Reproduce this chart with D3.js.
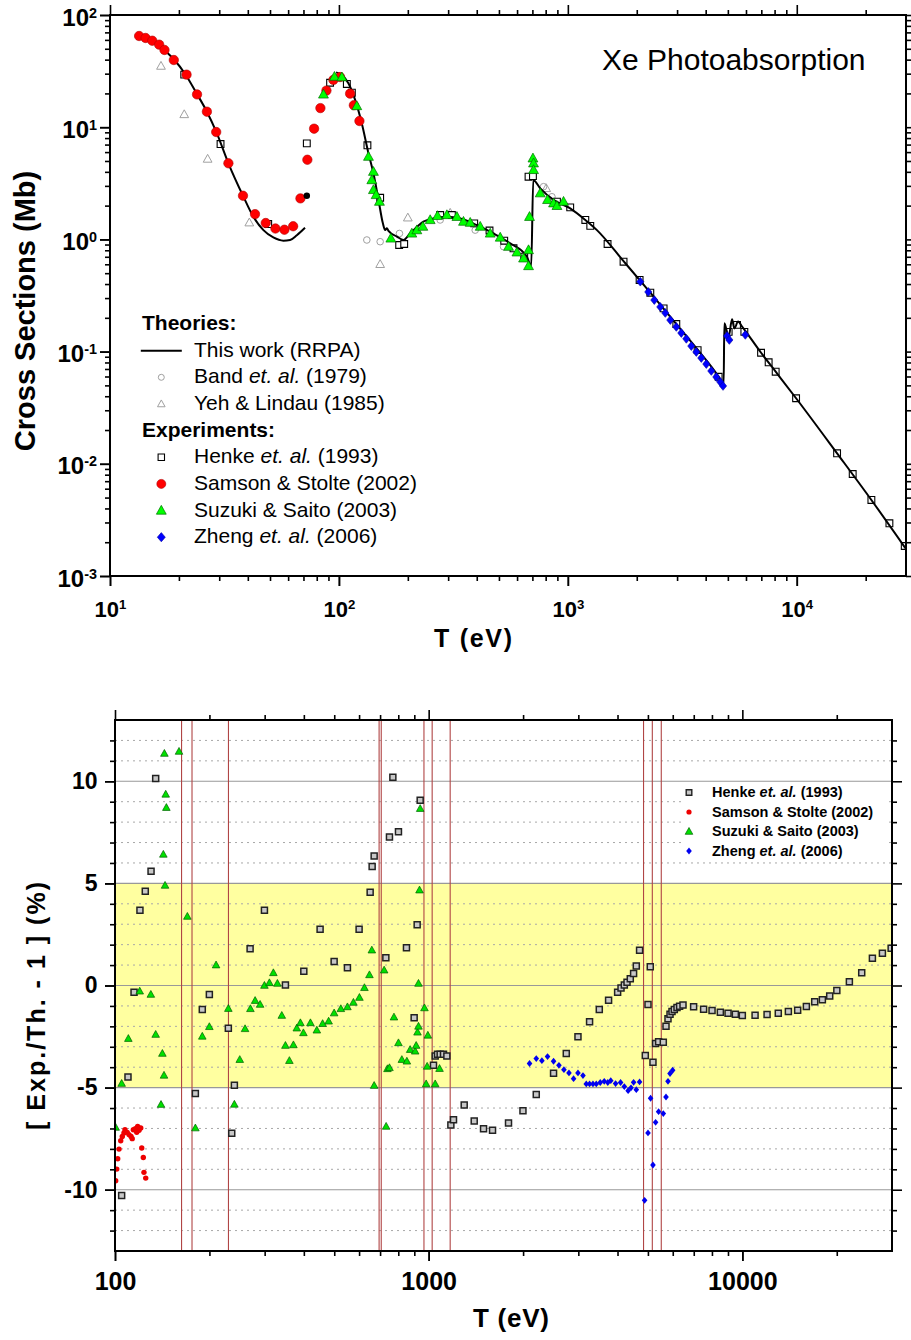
<!DOCTYPE html>
<html>
<head>
<meta charset="utf-8">
<script src="https://cdn.jsdelivr.net/npm/d3@7"></script>
<style>
  body { margin: 0; background: #fff; }
  svg { font-family: "Liberation Sans", Arial, sans-serif; }
</style>
</head>
<body>
<div id="chart"></div>
<script>
// ---------- top panel data : [T (eV), cross section (Mb)] ----------
var rrpaLow = [[13.4,65.0],[14.3,62.4],[15.3,59.0],[16.4,54.4],[17.3,48.8],[19.0,40.3],[21.3,29.8],[23.9,20.0],
  [26.5,13.75],[29.1,9.12],[32.9,4.77],[38.1,2.45],[42.3,1.59],[46.8,1.21],[51.7,1.04],[57.2,0.974],
  [61.2,0.988],[65.5,1.09],[71.1,1.27]];
var rrpaHigh = [[97.2,30.8],[103,29.2],[110,24.6],[117.7,17.5],[125.9,10.8],[134.6,5.85],[141.5,3.88],[148.9,2.25],
  [155.6,1.39],[159.2,1.21],[162.0,1.26],[164.6,1.19],[179.1,1.06],[191.4,0.988],[204.7,1.13],[234.0,1.44],
  [258.8,1.54],[296.2,1.59],[338.6,1.54],[400.6,1.34],[473.4,1.13],[560.1,0.923],[662.6,0.701],[691.8,0.579],
  [706.0,3.38],[757.5,2.85],[865.9,2.25],[1024,1.89],[1192,1.49],[1340,1.21],[1751,0.64],[2292,0.335],
  [2977,0.176],[3689,0.104],[4557,0.0595],[4792,0.0504],[4826,0.179],[5040,0.136],[5215,0.194],[5338,0.161],
  [5540,0.185],[5768,0.167],[6982,0.0977],[8088,0.0662],[9931,0.0384],[15000,0.0124],[21180,0.00476],[29830,0.00177]];
var bandPts = [[132.4,0.988],[151.4,0.954],[183.8,1.13],[276.9,1.49],[393.8,1.21],[523.6,0.861],[783.1,2.95],[852.1,2.40]];
var yehPts = [[16.7,35.1],[21.1,13.0],[26.7,5.21],[40.6,1.41],[151.4,0.600],[200.0,1.56],[306.2,1.72],[804.5,2.85]];
var henkePts = [[21.1,29.4],[30.4,7.08],[49.1,1.37],[72.4,7.18],[91.5,24.9],[108.3,24.3],[113.9,20.3],[133.2,6.90],
  [151.4,2.35],[183.3,0.891],[192.8,0.910],[276.9,1.65],[311.5,1.65],[389.9,1.39],[454.8,1.20],[527.2,0.974],
  [578.9,0.833],[644.8,0.701],[673.4,3.62],[703.9,3.67],[896.1,2.17],[1024,1.93],[1192,1.49],[1253,1.32],
  [1491,0.910],[1751,0.633],[2058,0.435],[2292,0.335],[2620,0.243],[2977,0.176],[3689,0.103],[4557,0.0597],
  [5040,0.150],[5483,0.173],[5902,0.150],[6982,0.0977],[7536,0.0803],[8088,0.0662],[9931,0.0384],[15000,0.0124],
  [17550,0.00811],[21180,0.00476],[25390,0.00295],[29620,0.00185]];
var samsonPts = [[13.4,65.0],[14.3,62.4],[15.3,59.0],[16.4,54.4],[17.3,48.8],[19.0,39.7],[21.6,29.4],[24.0,19.6],
  [26.5,13.75],[29.1,9.06],[32.9,4.77],[38.1,2.45],[43.0,1.68],[47.9,1.40],[52.8,1.25],[57.8,1.22],[63.1,1.31],
  [67.9,2.32],[72.8,5.13],[77.9,9.70],[83.0,14.8],[88.2,21.2],[94.6,26.4],[101.2,28.0],[111.9,19.9],[116.2,15.7],[122.9,11.35]];
var blackPts = [[72.4,2.45]];
var suzukiPts = [[85.6,19.6],[95.6,28.2],[103.0,27.9],[119.7,15.45],[134.6,5.46],[141.5,4.01],[139.2,3.38],[141.5,2.76],
  [145.4,2.49],[150.3,2.17],[168.6,1.02],[208.2,1.13],[219.0,1.21],[232.6,1.30],[250.4,1.49],[269.5,1.62],[296.2,1.65],
  [327.6,1.59],[350.0,1.44],[374.5,1.41],[414.2,1.30],[458.0,1.13],[506.5,1.04],[550.7,0.861],[599.2,0.767],[640.5,0.678],
  [673.4,0.579],[673.4,0.804],[680.1,1.59],[703.9,5.28],[708.1,4.77],[708.1,4.16],[757.5,2.58],[815.2,2.25],[865.9,2.10],
  [896.1,1.99],[957.6,2.17]];
var zhengPts = [[2072,0.420],[2246,0.340],[2386,0.288],[2534,0.250],[2665,0.221],[2803,0.191],[2977,0.166],[3131,0.1465],
  [3293,0.130],[3462,0.112],[3641,0.0992],[3828,0.0877],[4026,0.0775],[4233,0.0672],[4452,0.0594],[4636,0.0536],
  [4763,0.0494],[4960,0.138],[5075,0.127],[5961,0.141]];

// ---------- bottom panel data : [T (eV), Exp./Th. - 1 (%)] ----------
var henkeDev = [[105.0,-10.28],[110.0,-4.48],[115.0,-0.33],[120.1,3.69],[124.9,4.61],[130.3,5.60],[134.8,10.13],
  [180.4,-5.29],[189.8,-1.18],[199.9,-0.44],[229.8,-2.09],[235.6,-7.24],[240.2,-4.89],[269.6,1.80],[299.5,3.68],
  [349.4,0.03],[399.9,0.70],[450.7,2.75],[499.6,1.18],[550.8,0.87],[600.1,2.75],[650.8,4.57],[660.4,5.83],[670.2,6.34],
  [730.3,1.36],[749.9,7.27],[768.8,10.20],[801.1,7.53],[849.6,1.85],[898.9,-1.58],[919.0,2.98],[939.6,9.07],
  [1036,-3.91],[1049,-3.45],[1067,-3.37],[1088,-3.37],[1115,-3.37],[1143,-3.45],[1177,-6.83],[1200,-6.57],
  [1298,-5.85],[1397,-6.63],[1496,-7.02],[1598,-7.09],[1797,-6.73],[1998,-6.13],[2203,-5.34],[2501,-4.30],
  [2746,-3.33],[2992,-2.51],[3258,-1.78],[3499,-1.18],[3746,-0.72],[4003,-0.33],[4104,-0.12],[4205,0.03],
  [4289,0.16],[4393,0.33],[4501,0.59],[4591,0.95],[4703,1.73],[4905,-3.43],[5003,-0.93],[5087,0.92],[5189,-3.76],
  [5290,-2.84],[5408,-2.75],[5598,-2.78],[5710,-2.0],[5794,-1.63],[5881,-1.41],[5967,-1.27],[6069,-1.18],
  [6190,-1.08],[6310,-1.01],[6469,-0.96],[6993,-1.04],[7525,-1.16],[8006,-1.23],[8509,-1.31],[9004,-1.36],
  [9500,-1.41],[10000,-1.47],[10980,-1.46],[11990,-1.42],[13020,-1.36],[14020,-1.27],[15010,-1.21],[16000,-1.03],
  [17010,-0.80],[17995,-0.70],[18990,-0.52],[20010,-0.24],[21940,0.18],[24020,0.62],[25980,1.34],[27960,1.58],[29810,1.83]];
var samsonDev = [[100.5,-9.56],[101.3,-8.99],[102.0,-8.48],[103.0,-8.01],[104.3,-7.60],[105.5,-7.39],[106.8,-7.22],
  [107.6,-7.06],[109.4,-7.19],[110.8,-7.30],[112.5,-7.39],[113.5,-7.50],[114.4,-7.06],[116.1,-7.01],[117.3,-7.19],
  [118.1,-6.90],[119.3,-7.09],[120.8,-6.98],[121.7,-7.96],[123.1,-8.42],[123.7,-9.15],[125.3,-9.43]];
var suzukiDev = [[100.5,-6.95],[105.0,-4.80],[110.3,-2.60],[119.9,-0.28],[130.1,-0.44],[134.8,-2.40],[140.2,-5.83],
  [141.6,-3.33],[142.6,6.42],[143.3,-4.40],[143.7,11.36],[144.4,4.90],[145.1,9.36],[145.8,8.71],[160.0,11.46],
  [170.1,3.38],[180.4,-6.98],[189.8,-2.49],[199.9,-2.02],[210.0,1.00],[229.8,-1.13],[240.2,-5.82],[249.9,-3.63],
  [259.8,-2.12],[270.2,-1.14],[279.7,-0.74],[290.1,-0.93],[299.5,0.0],[310.6,0.13],[319.8,0.62],[329.4,0.10],
  [340.2,-1.47],[349.4,-2.94],[359.7,-3.68],[370.5,-2.91],[379.8,-2.09],[390.0,-1.83],[398.7,-2.32],[419.8,-1.83],
  [440.0,-2.19],[459.1,-1.87],[479.8,-1.75],[499.6,-1.35],[524.8,-1.14],[550.8,-1.05],[575.6,-0.83],[601.5,-0.59],
  [624.0,-0.11],[647.4,0.52],[658.9,1.73],[670.2,-4.90],[721.2,0.75],[731.8,-6.90],[738.9,-4.08],[749.9,-4.03],
  [775.1,-1.55],[801.1,-2.81],[821.3,-3.63],[852.1,-3.71],[873.0,-3.14],[905.6,-3.22],[912.3,-2.94],[921.2,-2.29],
  [928.0,-2.00],[928.0,0.10],[934.9,4.67],[939.6,8.66],[969.6,-1.10],[981.7,-4.82],[989.0,-3.96],[994.0,-2.44],
  [1049,-4.82],[1083,-4.07]];
var zhengDev = [[2097,-3.82],[2203,-3.58],[2296,-3.68],[2393,-3.48],[2501,-3.71],[2602,-3.91],[2699,-4.12],[2801,-4.28],
  [2897,-4.56],[2992,-4.28],[3104,-4.41],[3180,-4.82],[3258,-4.82],[3340,-4.82],[3422,-4.82],[3524,-4.75],[3629,-4.69],
  [3724,-4.75],[3806,-4.66],[3944,-4.80],[4091,-4.75],[4205,-4.95],[4324,-5.15],[4416,-5.01],[4501,-4.74],[4591,-5.10],
  [4703,-4.72],[4880,-10.52],[5003,-7.22],[5099,-5.52],[5189,-8.79],[5290,-6.70],[5408,-6.18],[5598,-6.27],[5710,-5.46],
  [5794,-4.69],[5881,-4.31],[5995,-4.15]];
var thresholds = [163, 176, 230, 695, 706, 966, 1026, 1171, 4842, 5164, 5515];

// tick values
var topXTicks = [10, 100, 1000, 10000];
var topYTicks = [1e-3, 1e-2, 1e-1, 1, 10, 100];
var botXTicks = [100, 1000, 10000];
var botYTicks = [-10, -5, 0, 5, 10];
var botYMinor = [-12, -11, -9, -8, -7, -6, -4, -3, -2, -1, 1, 2, 3, 4, 6, 7, 8, 9, 11, 12];

var FONT = '"Liberation Sans", Arial, sans-serif';

// marker shapes
function sq(s) { return "M" + (-s) + "," + (-s) + "h" + 2 * s + "v" + 2 * s + "h" + (-2 * s) + "Z"; }
function tri(s) { return "M0," + (-s) + "L" + (s * 0.95) + "," + (s * 0.7) + "L" + (-s * 0.95) + "," + (s * 0.7) + "Z"; }
function dia(w, h) { return "M0," + (-h) + "L" + w + ",0L0," + h + "L" + (-w) + ",0Z"; }
function circ(r) { return d3.symbol(d3.symbolCircle, Math.PI * r * r)(); }

function minorLog(scale) {
  var d = scale.domain(), out = [];
  for (var e = Math.floor(Math.log10(d[0])); e < Math.ceil(Math.log10(d[1])); e++)
    for (var m = 2; m < 10; m++) {
      var v = m * Math.pow(10, e);
      if (v > d[0] * 1.0001 && v < d[1] * 0.9999) out.push(v);
    }
  return out;
}

function tidy(sel) {
  sel.select(".domain").remove();
  sel.selectAll(".tick line").attr("stroke", "#000").attr("stroke-width", 1.6);
}

function frameAxes(g, x, y, box, xMaj, xMin, yMaj, yMin) {
  var sides = [
    [d3.axisBottom, x, "translate(0," + box.b + ")", xMaj, xMin],
    [d3.axisTop, x, "translate(0," + box.t + ")", xMaj, xMin],
    [d3.axisLeft, y, "translate(" + box.l + ",0)", yMaj, yMin],
    [d3.axisRight, y, "translate(" + box.r + ",0)", yMaj, yMin]
  ];
  sides.forEach(function(s) {
    g.append("g").attr("transform", s[2])
      .call(s[0](s[1]).tickValues(s[4]).tickSize(5).tickSizeOuter(0).tickFormat("")).call(tidy);
    g.append("g").attr("transform", s[2])
      .call(s[0](s[1]).tickValues(s[3]).tickSize(10).tickSizeOuter(0).tickFormat("")).call(tidy);
  });
  g.append("rect").attr("x", box.l).attr("y", box.t)
    .attr("width", box.r - box.l).attr("height", box.b - box.t)
    .attr("fill", "none").attr("stroke", "#000").attr("stroke-width", 2);
}

function plotPts(g, pts, x, y, shape, fill, stroke, sw) {
  g.append("g").selectAll("path").data(pts).enter().append("path")
    .attr("transform", function(d) { return "translate(" + x(d[0]) + "," + y(d[1]) + ")"; })
    .attr("d", shape)
    .attr("fill", fill).attr("stroke", stroke).attr("stroke-width", sw);
}

function supLabels(sel) {
  sel.selectAll(".tick text").each(function(d) {
    var t = d3.select(this).text(null);
    t.append("tspan").text("10");
    t.append("tspan").attr("dy", "-0.55em").attr("font-size", "0.6em").text(Math.round(Math.log10(d)));
  });
}

function styleLabels(sel, size) {
  sel.attr("font-family", null).attr("font-size", null);
  sel.selectAll(".tick text").attr("font-family", FONT).attr("font-size", size)
    .attr("font-weight", "bold").attr("fill", "#000");
}

var svg = d3.select("#chart").append("svg").attr("width", 911).attr("height", 1340);

// ====================== TOP PANEL ======================
var tb = {l: 110, r: 906, t: 15, b: 576};
var xT = d3.scaleLog().domain([10, 30000]).range([tb.l, tb.r]);
var yT = d3.scaleLog().domain([1e-3, 100]).range([tb.b, tb.t]);

var defs = svg.append("defs");
defs.append("clipPath").attr("id", "clipTop").append("rect")
  .attr("x", tb.l).attr("y", tb.t).attr("width", tb.r - tb.l).attr("height", tb.b - tb.t);

var topG = svg.append("g");
var topData = topG.append("g").attr("clip-path", "url(#clipTop)");

plotPts(topData, bandPts, xT, yT, circ(3.3), "none", "#a0a0a0", 1);
plotPts(topData, yehPts, xT, yT, tri(4.6), "none", "#a0a0a0", 1);
plotPts(topData, henkePts, xT, yT, sq(3.4), "#fff", "#000", 1.1);

var line = d3.line()
  .x(function(d) { return xT(d[0]); })
  .y(function(d) { return yT(d[1]); })
  .curve(d3.curveMonotoneX);
[rrpaLow, rrpaHigh].forEach(function(seg) {
  topData.append("path").datum(seg).attr("d", line)
    .attr("fill", "none").attr("stroke", "#000").attr("stroke-width", 2);
});

plotPts(topData, samsonPts, xT, yT, circ(4.7), "#ff0000", "#b00000", 0.6);
plotPts(topData, blackPts, xT, yT, circ(3.2), "#000", "none", 0);
plotPts(topData, suzukiPts, xT, yT, tri(5.2), "#00ff00", "#007000", 0.7);
plotPts(topData, zhengPts, xT, yT, dia(3.6, 4.4), "#0000ff", "#0000a0", 0.6);

frameAxes(topG, xT, yT, tb, topXTicks, minorLog(xT), topYTicks, minorLog(yT));

var gxT = topG.append("g").attr("transform", "translate(0," + tb.b + ")")
  .call(d3.axisBottom(xT).tickValues(topXTicks).tickSize(10).tickSizeOuter(0).tickPadding(15));
tidy(gxT); styleLabels(gxT, 22); supLabels(gxT);

var gyT = topG.append("g").attr("transform", "translate(" + tb.l + ",0)")
  .call(d3.axisLeft(yT).tickValues(topYTicks).tickSize(10).tickSizeOuter(0).tickPadding(3));
tidy(gyT); styleLabels(gyT, 24); supLabels(gyT);
gyT.selectAll(".tick text").attr("dy", "0.42em");

topG.append("text").attr("x", 602).attr("y", 70)
  .attr("font-size", 30).attr("fill", "#000").text("Xe Photoabsorption");

topG.append("text").attr("transform", "translate(35,311) rotate(-90)")
  .attr("text-anchor", "middle").attr("font-size", 29).attr("font-weight", "bold")
  .text("Cross Sections (Mb)");

topG.append("text").attr("x", 473).attr("y", 647)
  .attr("text-anchor", "middle").attr("font-size", 25).attr("font-weight", "bold")
  .attr("textLength", 78).attr("lengthAdjust", "spacing")
  .text("T (eV)");

// top legend
var topLegend = [
  {head: "Theories:"},
  {parts: [["This work (RRPA)", 0]], kind: "line"},
  {parts: [["Band ", 0], ["et. al.", 1], [" (1979)", 0]], kind: "band"},
  {parts: [["Yeh & Lindau (1985)", 0]], kind: "yeh"},
  {head: "Experiments:"},
  {parts: [["Henke ", 0], ["et. al.", 1], [" (1993)", 0]], kind: "henke"},
  {parts: [["Samson & Stolte (2002)", 0]], kind: "samson"},
  {parts: [["Suzuki & Saito (2003)", 0]], kind: "suzuki"},
  {parts: [["Zheng ", 0], ["et. al.", 1], [" (2006)", 0]], kind: "zheng"}
];
var tlg = topG.append("g");
topLegend.forEach(function(row, i) {
  var by = 330 + i * 26.65;
  if (row.head) {
    tlg.append("text").attr("x", 142).attr("y", by).attr("font-size", 21)
      .attr("font-weight", "bold").text(row.head);
    return;
  }
  var t = tlg.append("text").attr("x", 194).attr("y", by).attr("font-size", 21);
  row.parts.forEach(function(p) {
    t.append("tspan").attr("font-style", p[1] ? "italic" : null).text(p[0]);
  });
  var my = by - 6, mx = 161.3;
  var m = tlg.append("g").attr("transform", "translate(" + mx + "," + my + ")");
  if (row.kind === "line") m.append("line").attr("x1", -20.5).attr("x2", 20.5).attr("stroke", "#000").attr("stroke-width", 2);
  if (row.kind === "band") m.append("path").attr("d", circ(3)).attr("fill", "none").attr("stroke", "#a0a0a0");
  if (row.kind === "yeh") m.append("path").attr("d", tri(4)).attr("fill", "none").attr("stroke", "#a0a0a0");
  if (row.kind === "henke") m.append("path").attr("d", sq(3.2)).attr("fill", "#fff").attr("stroke", "#000").attr("stroke-width", 1.1);
  if (row.kind === "samson") m.append("path").attr("d", circ(4.5)).attr("fill", "#ff0000").attr("stroke", "#b00000").attr("stroke-width", 0.6);
  if (row.kind === "suzuki") m.append("path").attr("d", tri(5.2)).attr("fill", "#00ff00").attr("stroke", "#007000").attr("stroke-width", 0.7);
  if (row.kind === "zheng") m.append("path").attr("d", dia(4, 4.6)).attr("fill", "#0000ff").attr("stroke", "#0000a0").attr("stroke-width", 0.6);
});

// ====================== BOTTOM PANEL ======================
var bb = {l: 115, r: 892, t: 720, b: 1251};
var xB = d3.scaleLog().domain([100, 30000]).range([bb.l, bb.r]);
var yB = d3.scaleLinear().domain([-13, 13]).range([bb.b, bb.t]);

defs.append("clipPath").attr("id", "clipBot").append("rect")
  .attr("x", bb.l).attr("y", bb.t).attr("width", bb.r - bb.l).attr("height", bb.b - bb.t);

var botG = svg.append("g");
var botData = botG.append("g").attr("clip-path", "url(#clipBot)");

// +-5 % band
botData.append("rect").attr("x", bb.l).attr("width", bb.r - bb.l)
  .attr("y", yB(5)).attr("height", yB(-5) - yB(5)).attr("fill", "#ffffa0");

// grid
botData.append("g").selectAll("line").data(botYMinor).enter().append("line")
  .attr("x1", bb.l).attr("x2", bb.r)
  .attr("y1", function(d) { return yB(d); }).attr("y2", function(d) { return yB(d); })
  .attr("stroke", "#a8a8a8").attr("stroke-width", 1).attr("stroke-dasharray", "2,4");
botData.append("g").selectAll("line").data(botYTicks).enter().append("line")
  .attr("x1", bb.l).attr("x2", bb.r)
  .attr("y1", function(d) { return yB(d); }).attr("y2", function(d) { return yB(d); })
  .attr("stroke", "#999").attr("stroke-width", 1.2);

// thresholds
botData.append("g").selectAll("line").data(thresholds).enter().append("line")
  .attr("x1", function(d) { return xB(d); }).attr("x2", function(d) { return xB(d); })
  .attr("y1", bb.t).attr("y2", bb.b)
  .attr("stroke", "#b04545").attr("stroke-width", 1.1);

// legend background (hides grid under the legend)
botData.append("rect").attr("x", 683).attr("y", 785).attr("width", 206).attr("height", 76).attr("fill", "#fff");

plotPts(botData, henkeDev, xB, yB, sq(3), "#c8c8c8", "#222", 1.5);
plotPts(botData, samsonDev, xB, yB, circ(2.7), "#ee0000", "none", 0);
plotPts(botData, suzukiDev, xB, yB, tri(4), "#00e000", "#006000", 0.7);
plotPts(botData, zhengDev, xB, yB, dia(2.8, 3.4), "#0000f0", "none", 0);

frameAxes(botG, xB, yB, bb, botXTicks, minorLog(xB), botYTicks, botYMinor);

var gxB = botG.append("g").attr("transform", "translate(0," + bb.b + ")")
  .call(d3.axisBottom(xB).tickValues(botXTicks).tickSize(10).tickSizeOuter(0).tickPadding(11)
    .tickFormat(function(d) { return String(d); }));
tidy(gxB); styleLabels(gxB, 25);

var gyB = botG.append("g").attr("transform", "translate(" + bb.l + ",0)")
  .call(d3.axisLeft(yB).tickValues(botYTicks).tickSize(10).tickSizeOuter(0).tickPadding(7.5)
    .tickFormat(function(d) { return String(d); }));
tidy(gyB); styleLabels(gyB, 23);

botG.append("text").attr("transform", "translate(45,1006) rotate(-90)")
  .attr("text-anchor", "middle").attr("font-size", 25).attr("font-weight", "bold")
  .attr("textLength", 248).attr("lengthAdjust", "spacing")
  .text("[ Exp./Th. - 1 ]  (%)");

botG.append("text").attr("x", 511).attr("y", 1327)
  .attr("text-anchor", "middle").attr("font-size", 26).attr("font-weight", "bold")
  .attr("textLength", 76).attr("lengthAdjust", "spacing")
  .text("T (eV)");

// bottom legend
var botLegend = [
  {parts: [["Henke ", 0], ["et. al.", 1], [" (1993)", 0]], kind: "henke"},
  {parts: [["Samson & Stolte (2002)", 0]], kind: "samson"},
  {parts: [["Suzuki & Saito (2003)", 0]], kind: "suzuki"},
  {parts: [["Zheng ", 0], ["et. al.", 1], [" (2006)", 0]], kind: "zheng"}
];
var blg = botG.append("g");
botLegend.forEach(function(row, i) {
  var by = 797 + i * 19.5;
  var t = blg.append("text").attr("x", 712).attr("y", by).attr("font-size", 14.5).attr("font-weight", "bold");
  row.parts.forEach(function(p) {
    t.append("tspan").attr("font-style", p[1] ? "italic" : null).text(p[0]);
  });
  var m = blg.append("g").attr("transform", "translate(689," + (by - 4.5) + ")");
  if (row.kind === "henke") m.append("path").attr("d", sq(2.8)).attr("fill", "#c8c8c8").attr("stroke", "#222").attr("stroke-width", 1.4);
  if (row.kind === "samson") m.append("path").attr("d", circ(2.6)).attr("fill", "#ee0000");
  if (row.kind === "suzuki") m.append("path").attr("d", tri(4)).attr("fill", "#00e000").attr("stroke", "#006000").attr("stroke-width", 0.7);
  if (row.kind === "zheng") m.append("path").attr("d", dia(2.8, 3.4)).attr("fill", "#0000f0");
});
</script>
</body>
</html>
